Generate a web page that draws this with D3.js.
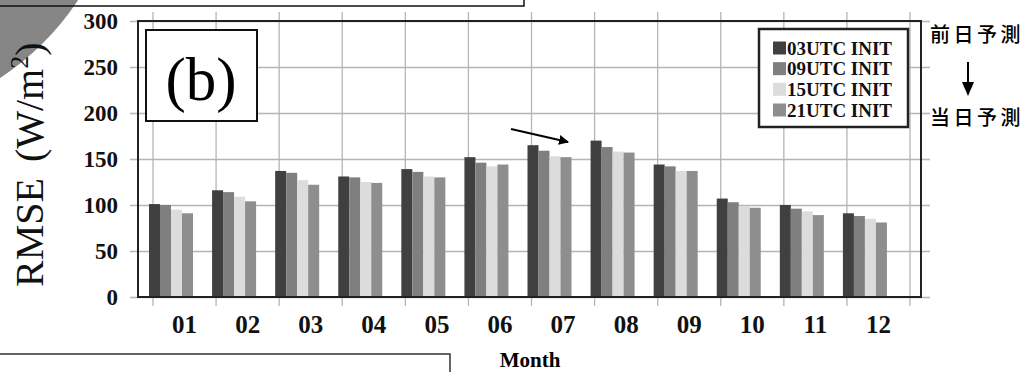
<!DOCTYPE html>
<html>
<head>
<meta charset="utf-8">
<script src="https://cdn.jsdelivr.net/npm/d3@7"></script>
<style>
  body { margin: 0; background: #fff; }
  svg { display: block; }
</style>
</head>
<body>
<div id="chart"></div>
<script>
// values
var months = ["01", "02", "03", "04", "05", "06", "07", "08", "09", "10", "11", "12"];
var seriesNames = ["03UTC INIT", "09UTC INIT", "15UTC INIT", "21UTC INIT"];
var seriesColors = ["#404040", "#7f7f7f", "#dcdcdc", "#8e8e8e"];
var rmse03 = [101, 116, 137, 131, 139, 152, 165, 170, 144, 107, 100, 91];
var rmse09 = [100, 114, 135, 130, 136, 146, 159, 163, 142, 103, 96, 88];
var rmse15 = [95, 109, 127, 125, 131, 142, 153, 158, 137, 99, 93, 85];
var rmse21 = [91, 104, 122, 124, 130, 144, 152, 157, 137, 97, 89, 81];
var yTicks = [0, 50, 100, 150, 200, 250, 300];

var serif = "'Liberation Serif', 'Times New Roman', serif";
var jp = "'Noto Sans CJK JP', sans-serif";

var svg = d3.select("#chart")
    .append("svg")
    .attr("width", 1024)
    .attr("height", 372);

// grey disc and the cut off boxes from the page around the figure
svg.append("circle")
    .attr("cx", -150).attr("cy", -150).attr("r", 273)
    .style("fill", "#868686");
svg.append("rect")
    .attr("x", -5).attr("y", -20).attr("width", 529).attr("height", 26)
    .style("fill", "none").style("stroke", "#111").style("stroke-width", 1.5);
svg.append("rect")
    .attr("x", -5).attr("y", 354).attr("width", 455).attr("height", 60)
    .style("fill", "none").style("stroke", "#333").style("stroke-width", 1.5);

var frame = {left: 138, right: 921, top: 21, bottom: 297};

var x = d3.scaleBand()
    .domain(months)
    .range([153, 910]);
var xs = d3.scaleBand()
    .domain(seriesNames)
    .range([-4, 40]);
var y = d3.scaleLinear()
    .domain([0, 300])
    .range([frame.bottom, frame.top]);

// horizontal grid + y labels
var yAxis = svg.append("g")
    .attr("transform", "translate(130,0)")
    .style("font-family", serif)
    .style("font-weight", "bold")
    .style("font-size", "23px")
    .call(d3.axisLeft(y).tickValues(yTicks).tickSize(-800).tickPadding(12));
yAxis.select(".domain").remove();
yAxis.selectAll(".tick line").style("stroke", "#b5b5b5").style("stroke-width", 1.3);
yAxis.selectAll(".tick text").style("fill", "#111");

// vertical grid on the category boundaries
var bounds = months.map(function(m) { return x(m); });
bounds.push(x.range()[1]);
svg.append("g").selectAll("line")
    .data(bounds)
    .enter()
    .append("line")
    .attr("x1", function(d) { return d; })
    .attr("x2", function(d) { return d; })
    .attr("y1", 12)
    .attr("y2", 306)
    .style("stroke", "#b5b5b5")
    .style("stroke-width", 1.3);

// bars
var allSeries = [rmse03, rmse09, rmse15, rmse21];
allSeries.forEach(function(vals, i) {
    svg.append("g").selectAll("rect")
        .data(vals)
        .enter()
        .append("rect")
        .attr("x", function(d, j) { return x(months[j]) + xs(seriesNames[i]); })
        .attr("y", function(d) { return y(d); })
        .attr("width", xs.bandwidth())
        .attr("height", function(d) { return y(0) - y(d); })
        .style("fill", seriesColors[i]);
});

// frame
svg.append("rect")
    .attr("x", frame.left).attr("y", frame.top)
    .attr("width", frame.right - frame.left)
    .attr("height", frame.bottom - frame.top)
    .style("fill", "none").style("stroke", "#222").style("stroke-width", 2);

// x labels
var xAxis = svg.append("g")
    .attr("transform", "translate(0," + frame.bottom + ")")
    .style("font-family", serif)
    .style("font-weight", "bold")
    .style("font-size", "25px")
    .call(d3.axisBottom(x).tickSize(0).tickPadding(18));
xAxis.select(".domain").remove();
xAxis.selectAll(".tick text").style("fill", "#111");

svg.append("text")
    .attr("x", 530).attr("y", 367)
    .attr("text-anchor", "middle")
    .style("font-family", serif)
    .style("font-weight", "bold")
    .style("font-size", "21px")
    .text("Month");

// y title
var yt = svg.append("text")
    .attr("transform", "translate(43,287) rotate(-90)")
    .style("font-family", serif)
    .style("font-size", "40px")
    .style("fill", "#111");
yt.append("tspan").text("RMSE");
yt.append("tspan").attr("dx", 16).text("(W/m");
yt.append("tspan").attr("dy", -15).style("font-size", "26px").text("2");
yt.append("tspan").attr("dy", 15).text(")");

// (b) box
svg.append("rect")
    .attr("x", 146).attr("y", 30).attr("width", 111).attr("height", 91)
    .style("fill", "#fff").style("stroke", "#111").style("stroke-width", 2);
svg.append("text")
    .attr("x", 201).attr("y", 100)
    .attr("text-anchor", "middle")
    .style("font-family", serif)
    .style("font-size", "61px")
    .text("(b)");

// legend
var legend = svg.append("g");
legend.append("rect")
    .attr("x", 759).attr("y", 29).attr("width", 149).attr("height", 98)
    .style("fill", "#fff").style("stroke", "#222").style("stroke-width", 2.5);
var ly = d3.scalePoint().domain(seriesNames).range([48, 110]);
seriesNames.forEach(function(name, i) {
    legend.append("rect")
        .attr("x", 773).attr("y", ly(name) - 6.5)
        .attr("width", 13).attr("height", 13)
        .style("fill", seriesColors[i]);
    legend.append("text")
        .attr("x", 787).attr("y", ly(name) + 6.5)
        .style("font-family", serif)
        .style("font-weight", "bold")
        .style("font-size", "19px")
        .style("fill", "#111")
        .text(name);
});

// arrow inside the plot
var defs = svg.append("defs");
defs.append("marker")
    .attr("id", "head")
    .attr("viewBox", "0 0 10 10")
    .attr("refX", 9).attr("refY", 5)
    .attr("markerWidth", 5).attr("markerHeight", 5)
    .attr("orient", "auto")
    .append("path")
    .attr("d", "M0,0 L10,5 L0,10 z")
    .style("fill", "#000");
svg.append("line")
    .attr("x1", 511).attr("y1", 129)
    .attr("x2", 568).attr("y2", 142)
    .style("stroke", "#000").style("stroke-width", 2)
    .attr("marker-end", "url(#head)");

// right side notes
svg.append("text")
    .attr("x", 930).attr("y", 42)
    .style("font-family", jp)
    .style("font-weight", 500)
    .style("font-size", "20px")
    .style("letter-spacing", "3.5px")
    .text("前日予測");
svg.append("text")
    .attr("x", 930).attr("y", 125)
    .style("font-family", jp)
    .style("font-weight", 500)
    .style("font-size", "20px")
    .style("letter-spacing", "3.5px")
    .text("当日予測");
svg.append("line")
    .attr("x1", 968).attr("y1", 62)
    .attr("x2", 968).attr("y2", 84)
    .style("stroke", "#000").style("stroke-width", 2);
svg.append("path")
    .attr("d", d3.line()([[962, 82], [974, 82], [968, 96]]) + "Z")
    .style("fill", "#000");
</script>
</body>
</html>
